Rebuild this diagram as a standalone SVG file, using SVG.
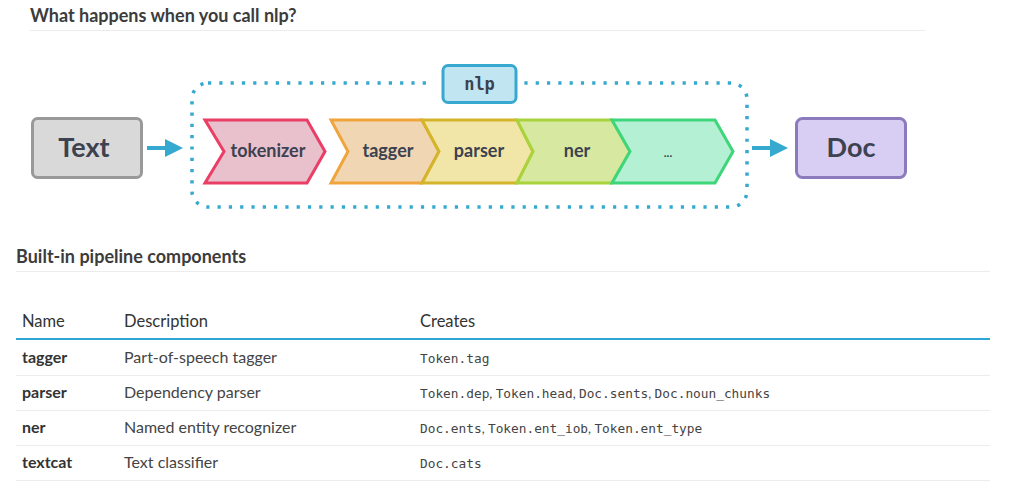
<svg xmlns="http://www.w3.org/2000/svg" width="1009" height="495" viewBox="0 0 1009 495">
<defs>
<style>
.h{font-family:Lato,"Liberation Sans",sans-serif;font-weight:bold;fill:#3c3c3c;font-size:18px}
.chev{stroke-width:3;stroke-linejoin:miter}
.ct{font-family:Lato,"Liberation Sans",sans-serif;font-weight:bold;font-size:18px;fill:#3c4250;text-anchor:middle}
.big{font-family:Lato,"Liberation Sans",sans-serif;font-weight:bold;font-size:27px;fill:#3c4250;text-anchor:middle}
.th{font-family:Lato,"Liberation Sans",sans-serif;font-size:16.5px;fill:#333}
.nm{font-family:Lato,"Liberation Sans",sans-serif;font-weight:bold;font-size:16px;fill:#333}
.ds{font-family:Lato,"Liberation Sans",sans-serif;font-size:16px;fill:#444}
.cr{font-family:"DejaVu Sans Mono","Liberation Mono",monospace;font-size:12.8px;fill:#444}
.sep{font-family:Lato,"Liberation Sans",sans-serif;font-size:13px}
.rl{stroke:#ececec;stroke-width:1}
.arr{stroke:#35a9cf;stroke-width:4;fill:none}
</style>
<marker id="ah" markerUnits="userSpaceOnUse" markerWidth="20" markerHeight="20" viewBox="0 0 20 20" refX="2" refY="10" orient="auto">
<path d="M0,1 L18,10 L0,19 Z" fill="#35a9cf"/>
</marker>
</defs>
<rect width="1009" height="495" fill="#fff"/>

<g id="title1">
<text class="h" x="30" y="22">What happens when you call nlp?</text>
<line x1="30" y1="30.5" x2="925" y2="30.5" stroke="#ececec" stroke-width="1"/>
</g>

<g id="pipeline-frame">
<rect x="192" y="83" width="555" height="124" rx="16" fill="none" stroke="#35a9cf" stroke-width="3.5" stroke-dasharray="3.2 8.1"/>
</g>

<g id="nlp">
<rect x="433" y="62" width="88" height="43" fill="#fff"/>
<rect x="443" y="65.5" width="73" height="37" rx="5" fill="#c2e6f1" stroke="#35a9cf" stroke-width="3"/>
<text x="479.5" y="90" font-family="'DejaVu Sans Mono','Liberation Mono',monospace" font-weight="bold" font-size="17" fill="#3c4250" text-anchor="middle">nlp</text>
</g>

<g id="text-node">
<rect x="32.5" y="118.5" width="109" height="59" rx="5" fill="#d9d9d9" stroke="#999" stroke-width="3"/>
<text class="big" x="84" y="157">Text</text>
</g>

<g id="doc-node">
<rect x="796.5" y="118.5" width="109" height="59" rx="6" fill="#d8cdf2" stroke="#8b7bbd" stroke-width="3"/>
<text class="big" x="851" y="157">Doc</text>
</g>

<g id="tokenizer">
<path class="chev" d="M205,120 L307,120 L325,151.5 L307,183 L205,183 L224,151.5 Z" fill="#e9c1cc" stroke="#ea3e67"/>
<text class="ct" x="268" y="157">tokenizer</text>
</g>
<g id="tagger">
<path class="chev" d="M331,120 L422,120 L439,151.5 L422,183 L331,183 L348,151.5 Z" fill="#f1d6b3" stroke="#f0a53c"/>
<text class="ct" x="388" y="157">tagger</text>
</g>
<g id="parser">
<path class="chev" d="M422,120 L517,120 L533,151.5 L517,183 L422,183 L439,151.5 Z" fill="#f1e6a7" stroke="#d3b42a"/>
<text class="ct" x="479" y="157">parser</text>
</g>
<g id="ner">
<path class="chev" d="M517,120 L612,120 L630,151.5 L612,183 L517,183 L533,151.5 Z" fill="#d7e9a1" stroke="#a9d33c"/>
<text class="ct" x="577" y="157">ner</text>
</g>
<g id="more">
<path class="chev" d="M612,120 L715,120 L733,151.5 L715,183 L612,183 L630,151.5 Z" fill="#b4f1d4" stroke="#3fd57a"/>
<text x="668" y="157" font-family="Lato,'Liberation Sans',sans-serif" font-weight="bold" font-size="12" fill="#3c4250" text-anchor="middle">...</text>
</g>

<g id="connectors">
<line class="arr" x1="147" y1="148" x2="167" y2="148" marker-end="url(#ah)"/>
<line class="arr" x1="752" y1="148" x2="772" y2="148" marker-end="url(#ah)"/>
</g>

<g id="title2">
<text class="h" x="16" y="263">Built-in pipeline components</text>
<line x1="16" y1="271.5" x2="990" y2="271.5" stroke="#ececec" stroke-width="1"/>
</g>

<g id="table">
<text class="th" x="22" y="327">Name</text>
<text class="th" x="124" y="327">Description</text>
<text class="th" x="420" y="327">Creates</text>
<line x1="16" y1="339" x2="990" y2="339" stroke="#2ea6d4" stroke-width="2"/>

<text class="nm" x="22" y="363">tagger</text>
<text class="ds" x="124" y="363">Part-of-speech tagger</text>
<text class="cr" x="420" y="363">Token.tag</text>
<line class="rl" x1="16" y1="375.5" x2="990" y2="375.5"/>

<text class="nm" x="22" y="398">parser</text>
<text class="ds" x="124" y="398">Dependency parser</text>
<text class="cr" x="420" y="398">Token.dep<tspan class="sep">, </tspan>Token.head<tspan class="sep">, </tspan>Doc.sents<tspan class="sep">, </tspan>Doc.noun_chunks</text>
<line class="rl" x1="16" y1="410.5" x2="990" y2="410.5"/>

<text class="nm" x="22" y="433">ner</text>
<text class="ds" x="124" y="433">Named entity recognizer</text>
<text class="cr" x="420" y="433">Doc.ents<tspan class="sep">, </tspan>Token.ent_iob<tspan class="sep">, </tspan>Token.ent_type</text>
<line class="rl" x1="16" y1="445.5" x2="990" y2="445.5"/>

<text class="nm" x="22" y="468">textcat</text>
<text class="ds" x="124" y="468">Text classifier</text>
<text class="cr" x="420" y="468">Doc.cats</text>
<line class="rl" x1="16" y1="480.5" x2="990" y2="480.5"/>
</g>
</svg>
